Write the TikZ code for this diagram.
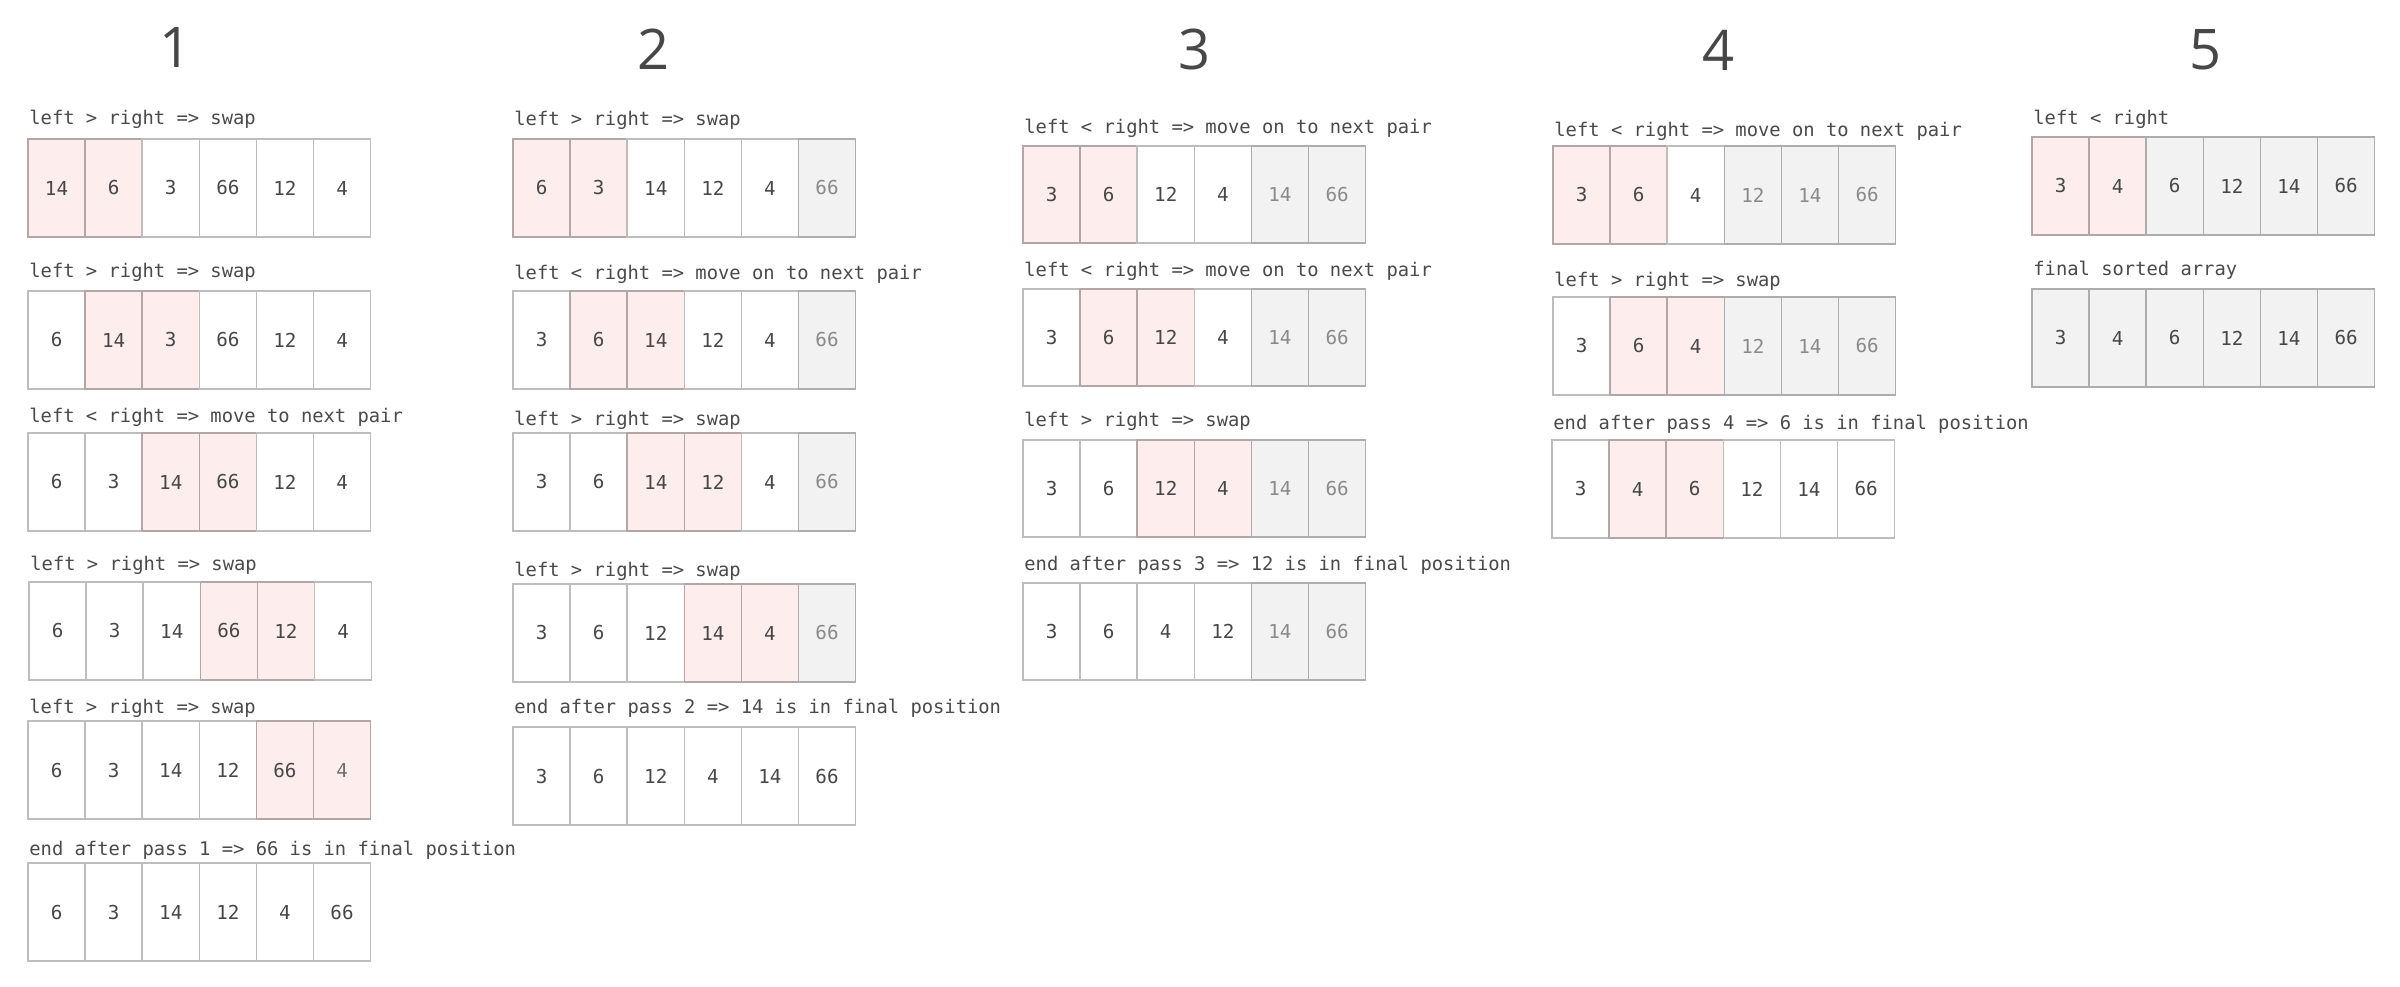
\documentclass[tikz,border=0pt]{standalone}
\usepackage{fontspec}
\setmainfont{DejaVu Sans}
\newfontfamily\monof{DejaVu Sans Mono}
\newfontfamily\titlef{Open Sans}
\definecolor{cfw}{HTML}{FFFFFF}\definecolor{cdw}{HTML}{BDBDBD}\definecolor{ctw}{HTML}{474747}
\definecolor{cfp}{HTML}{FDEDED}\definecolor{cdp}{HTML}{B3A6A6}\definecolor{ctp}{HTML}{474747}
\definecolor{cfq}{HTML}{FDEDED}\definecolor{cdq}{HTML}{B3A6A6}\definecolor{ctq}{HTML}{707070}
\definecolor{cfg}{HTML}{F2F2F2}\definecolor{cdg}{HTML}{ADADAD}\definecolor{ctg}{HTML}{8A8A8A}
\definecolor{cfk}{HTML}{F2F2F2}\definecolor{cdk}{HTML}{ADADAD}\definecolor{ctk}{HTML}{474747}
\definecolor{lblc}{HTML}{4A4A4A}
\definecolor{titlec}{HTML}{474747}
\tikzset{
  cell/.style={inner sep=0pt, line width=0.75pt, minimum width=28.55pt, anchor=center,
    font=\monof\fontsize{9.6}{11}\selectfont},
  lbl/.style={anchor=base west, inner sep=0pt, text=lblc, font=\monof\fontsize{9.4}{11}\selectfont},
  ttl/.style={anchor=center, inner sep=0pt, text=titlec, font=\titlef\fontsize{28}{30}\selectfont}
}
% #1 name, #2 x0, #3 top, #4 height, #5 label baseline, #6 label, #7 cells
\newcommand{\arow}[7]{%
  \node[lbl] (#1-l) at (#2+1,#5) {#6};
  \foreach [count=\i] \s/\v in {#7} {
    \node[cell, minimum height=#4*0.5pt, fill=cf\s, draw=cd\s, text=ct\s]
      (#1-\i) at ({#2+57.1*(\i-0.5)},{#3+#4/2}) {\v};
  }%
}
\begin{document}
\begin{tikzpicture}[x=0.5pt,y=-0.5pt]
\useasboundingbox[fill=white] (0,0) rectangle (2400,986);
% titles
\node[ttl] (t1) at (176,48) {1};
\node[ttl] (t2) at (654,49) {2};
\node[ttl] (t3) at (1194,49) {3};
\node[ttl] (t4) at (1718,50) {4};
\node[ttl] (t5) at (2205,50) {5};
% column 1
\arow{c1r1}{28}{139}{98}{124}{left > right => swap}{p/14,p/6,w/3,w/66,w/12,w/4}
\arow{c1r2}{28}{291}{98}{277}{left > right => swap}{w/6,p/14,p/3,w/66,w/12,w/4}
\arow{c1r3}{28}{433}{98}{422}{left < right => move to next pair}{w/6,w/3,p/14,p/66,w/12,w/4}
\arow{c1r4}{29}{582}{98}{570}{left > right => swap}{w/6,w/3,w/14,p/66,p/12,w/4}
\arow{c1r5}{28}{721}{98}{713}{left > right => swap}{w/6,w/3,w/14,w/12,p/66,q/4}
\arow{c1r6}{28}{863}{98}{855}{end after pass 1 => 66 is in final position}{w/6,w/3,w/14,w/12,w/4,w/66}
% column 2
\arow{c2r1}{513}{139}{98}{125}{left > right => swap}{p/6,p/3,w/14,w/12,w/4,g/66}
\arow{c2r2}{513}{291}{98}{279}{left < right => move on to next pair}{w/3,p/6,p/14,w/12,w/4,g/66}
\arow{c2r3}{513}{433}{98}{425}{left > right => swap}{w/3,w/6,p/14,p/12,w/4,g/66}
\arow{c2r4}{513}{584}{98}{576}{left > right => swap}{w/3,w/6,w/12,p/14,p/4,g/66}
\arow{c2r5}{513}{727}{98}{713}{end after pass 2 => 14 is in final position}{w/3,w/6,w/12,w/4,w/14,w/66}
% column 3
\arow{c3r1}{1023}{146}{97}{133}{left < right => move on to next pair}{p/3,p/6,w/12,w/4,g/14,g/66}
\arow{c3r2}{1023}{289}{97}{276}{left < right => move on to next pair}{w/3,p/6,p/12,w/4,g/14,g/66}
\arow{c3r3}{1023}{440}{97}{426}{left > right => swap}{w/3,w/6,p/12,p/4,g/14,g/66}
\arow{c3r4}{1023}{583}{97}{570}{end after pass 3 => 12 is in final position}{w/3,w/6,w/4,w/12,g/14,g/66}
% column 4
\arow{c4r1}{1553}{146}{98}{136}{left < right => move on to next pair}{p/3,p/6,w/4,g/12,g/14,g/66}
\arow{c4r2}{1553}{297}{98}{286}{left > right => swap}{w/3,p/6,p/4,g/12,g/14,g/66}
\arow{c4r3}{1552}{440}{98}{429}{end after pass 4 => 6 is in final position}{w/3,p/4,p/6,w/12,w/14,w/66}
% column 5
\arow{c5r1}{2032}{137}{98}{124}{left < right}{p/3,p/4,k/6,k/12,k/14,k/66}
\arow{c5r2}{2032}{289}{98}{275}{final sorted array}{k/3,k/4,k/6,k/12,k/14,k/66}
\end{tikzpicture}
\end{document}
